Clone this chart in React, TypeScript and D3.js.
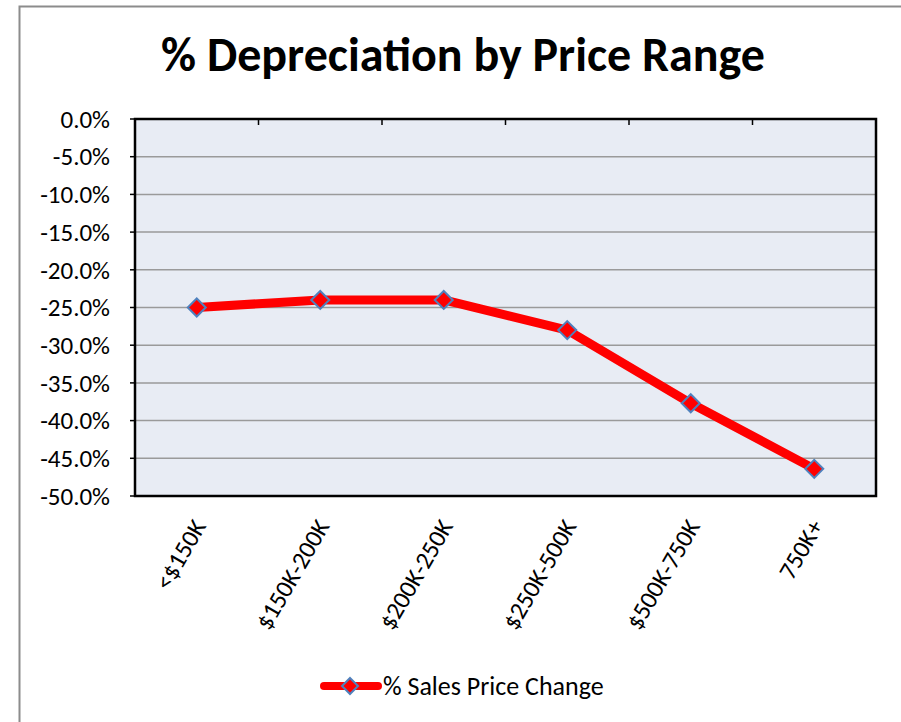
import React, { useRef, useEffect } from 'react'
import * as d3 from 'd3'

const CATEGORIES = ['<$150K', '$150K-200K', '$200K-250K', '$250K-500K', '$500K-750K', '750K+']
const VALUES = [-25.0, -24.0, -24.0, -28.0, -37.7, -46.4]
const Y_TICKS = [0, -5, -10, -15, -20, -25, -30, -35, -40, -45, -50]
const TITLE = '% Depreciation by Price Range'
const SERIES_NAME = '% Sales Price Change'

const FONT = 'Carlito, Calibri, "Open Sans", "Liberation Sans", sans-serif'

export default function App() {
  const svgRef = useRef<SVGSVGElement>(null)

  useEffect(() => {
    if (!svgRef.current) return
    const svg = d3.select(svgRef.current)
    svg.selectAll('*').remove()

    const W = 901
    const H = 722
    const plot = { left: 135, top: 119, right: 876, bottom: 496 }

    svg.append('rect').attr('width', W).attr('height', H).attr('fill', '#fff')

    // outer chart frame
    svg.append('rect')
      .attr('x', 19.5).attr('y', 6.5)
      .attr('width', W).attr('height', H)
      .attr('fill', 'none')
      .attr('stroke', '#8c8c8c')
      .attr('stroke-width', 2)

    svg.append('text')
      .attr('x', 463).attr('y', 71)
      .attr('text-anchor', 'middle')
      .attr('font-family', FONT)
      .attr('font-weight', 'bold')
      .attr('font-size', 48)
      .attr('fill', '#000')
      .text(TITLE)

    const x = d3.scaleBand().domain(CATEGORIES).range([plot.left, plot.right])
    const y = d3.scaleLinear().domain([0, -50]).range([plot.top, plot.bottom])

    svg.append('rect')
      .attr('x', plot.left).attr('y', plot.top)
      .attr('width', plot.right - plot.left)
      .attr('height', plot.bottom - plot.top)
      .attr('fill', '#e8ecf4')

    // gridlines
    svg.append('g')
      .selectAll('line')
      .data(Y_TICKS.slice(1, -1))
      .join('line')
      .attr('x1', plot.left).attr('x2', plot.right)
      .attr('y1', (d) => y(d)).attr('y2', (d) => y(d))
      .attr('stroke', '#9a9a9a')
      .attr('stroke-width', 1.5)

    // y axis labels
    svg.append('g')
      .selectAll('text')
      .data(Y_TICKS)
      .join('text')
      .attr('x', 110)
      .attr('y', (d) => y(d))
      .attr('dy', '0.35em')
      .attr('text-anchor', 'end')
      .attr('font-family', FONT)
      .attr('font-size', 25)
      .attr('fill', '#000')
      .text((d) => `${d.toFixed(1)}%`)

    // y tick marks
    svg.append('g')
      .selectAll('line')
      .data(Y_TICKS)
      .join('line')
      .attr('x1', plot.left - 5).attr('x2', plot.left)
      .attr('y1', (d) => y(d)).attr('y2', (d) => y(d))
      .attr('stroke', '#000')
      .attr('stroke-width', 1.5)

    // category tick marks on the top (0%) axis
    svg.append('g')
      .selectAll('line')
      .data(CATEGORIES.slice(1))
      .join('line')
      .attr('x1', (d) => x(d)!).attr('x2', (d) => x(d)!)
      .attr('y1', plot.top).attr('y2', plot.top + 6)
      .attr('stroke', '#000')
      .attr('stroke-width', 1.5)

    svg.append('rect')
      .attr('x', plot.left).attr('y', plot.top)
      .attr('width', plot.right - plot.left)
      .attr('height', plot.bottom - plot.top)
      .attr('fill', 'none')
      .attr('stroke', '#000')
      .attr('stroke-width', 2.5)

    // category labels (rotated)
    svg.append('g')
      .selectAll('text')
      .data(CATEGORIES)
      .join('text')
      .attr('transform', (d) => `translate(${x(d)! + x.bandwidth() / 2 + 10},${plot.bottom + 30}) rotate(-60)`)
      .attr('text-anchor', 'end')
      .attr('font-family', FONT)
      .attr('font-size', 25)
      .attr('fill', '#000')
      .text((d) => d)

    const pts = CATEGORIES.map((c, i) => [x(c)! + x.bandwidth() / 2, y(VALUES[i])] as [number, number])

    svg.append('path')
      .attr('d', d3.line()(pts))
      .attr('fill', 'none')
      .attr('stroke', '#ff0000')
      .attr('stroke-width', 9)
      .attr('stroke-linejoin', 'round')

    const diamond = (cx: number, cy: number, r: number) =>
      `M${cx},${cy - r}L${cx + r},${cy}L${cx},${cy + r}L${cx - r},${cy}Z`

    svg.append('g')
      .selectAll('path')
      .data(pts)
      .join('path')
      .attr('d', (p) => diamond(p[0], p[1], 9))
      .attr('fill', '#ff0000')
      .attr('stroke', '#4f81bd')
      .attr('stroke-width', 2)

    // legend
    const ly = 686
    svg.append('line')
      .attr('x1', 324).attr('x2', 378)
      .attr('y1', ly).attr('y2', ly)
      .attr('stroke', '#ff0000')
      .attr('stroke-width', 8)
      .attr('stroke-linecap', 'round')
    svg.append('path')
      .attr('d', diamond(350, ly, 8))
      .attr('fill', '#ff0000')
      .attr('stroke', '#4f81bd')
      .attr('stroke-width', 2)
    svg.append('text')
      .attr('x', 383).attr('y', ly)
      .attr('dy', '0.35em')
      .attr('font-family', FONT)
      .attr('font-size', 26)
      .attr('fill', '#000')
      .text(SERIES_NAME)
  }, [])

  return (
    <svg
      ref={svgRef}
      width={901}
      height={722}
      style={{ position: 'absolute', left: 0, top: 0, display: 'block' }}
    />
  )
}
